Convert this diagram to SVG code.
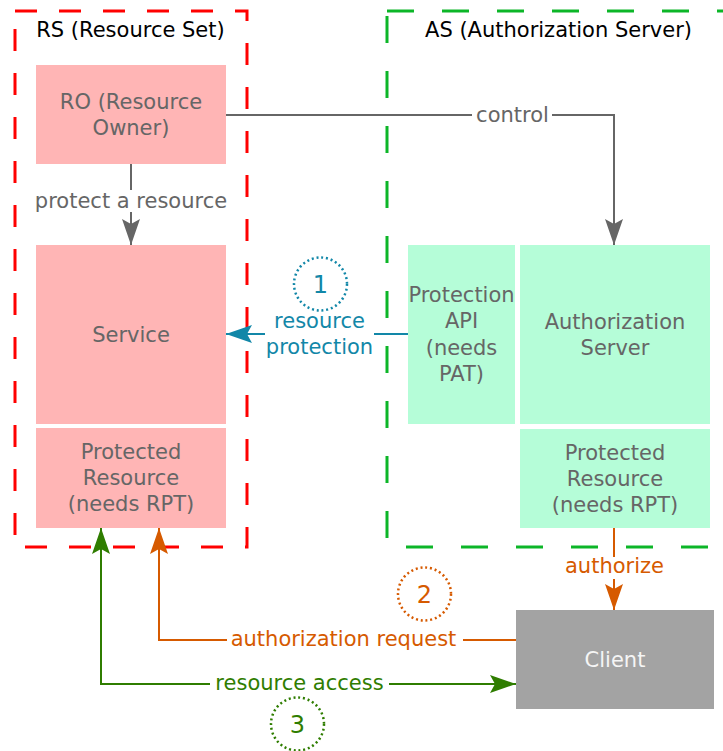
<svg xmlns="http://www.w3.org/2000/svg" width="723" height="751" viewBox="0 0 723 751">
  <style>
    text { font-family: "DejaVu Sans", "Liberation Sans", sans-serif; font-size: 21px; text-anchor: middle; }
    .title { fill: #000000; }
    .lbl { fill: #666666; }
    .pink { fill: #ffb5b5; }
    .mint { fill: #b5fdd8; }
    .line { fill: none; stroke-width: 2; }
    .gray { stroke: #666666; }
    .teal { stroke: #1287a8; }
    .orange { stroke: #d65a00; }
    .green { stroke: #2f7d00; }
    .tteal { fill: #1287a8; }
    .torange { fill: #d65a00; }
    .tgreen { fill: #2f7d00; }
    .bg { fill: #ffffff; }
    .step { fill: none; stroke-width: 2.5; stroke-dasharray: 2 2.8; }
    .num { font-size: 24px; }
  </style>
  <defs>
    <marker id="arrGray" viewBox="0 0 26 18" refX="26" refY="9" markerWidth="26" markerHeight="18" markerUnits="userSpaceOnUse" orient="auto-start-reverse">
      <path d="M0,0 L26,9 L0,18 L5,9 Z" fill="#666666"/>
    </marker>
    <marker id="arrTeal" viewBox="0 0 26 18" refX="26" refY="9" markerWidth="26" markerHeight="18" markerUnits="userSpaceOnUse" orient="auto-start-reverse">
      <path d="M0,0 L26,9 L0,18 L5,9 Z" fill="#1287a8"/>
    </marker>
    <marker id="arrOrange" viewBox="0 0 26 18" refX="26" refY="9" markerWidth="26" markerHeight="18" markerUnits="userSpaceOnUse" orient="auto-start-reverse">
      <path d="M0,0 L26,9 L0,18 L5,9 Z" fill="#d65a00"/>
    </marker>
    <marker id="arrGreen" viewBox="0 0 26 18" refX="26" refY="9" markerWidth="26" markerHeight="18" markerUnits="userSpaceOnUse" orient="auto-start-reverse">
      <path d="M0,0 L26,9 L0,18 L5,9 Z" fill="#2f7d00"/>
    </marker>
  </defs>

  <rect width="723" height="751" fill="#ffffff"/>

  <!-- Containers -->
  <g id="rs-container">
    <rect x="15" y="11" width="232" height="536" fill="none" stroke="#ff0000" stroke-width="3" stroke-dasharray="22 22"/>
    <text class="title" x="130.5" y="37">RS (Resource Set)</text>
  </g>
  <g id="as-container">
    <rect x="387" y="11" width="360" height="536" fill="none" stroke="#0cb628" stroke-width="3" stroke-dasharray="27 28"/>
    <text class="title" x="558.5" y="37">AS (Authorization Server)</text>
  </g>

  <!-- Nodes -->
  <g id="resource-owner">
    <rect class="pink" x="36" y="65" width="190" height="99"/>
    <text class="lbl" x="131" y="108.5">RO (Resource</text>
    <text class="lbl" x="131" y="134.5">Owner)</text>
  </g>
  <g id="service">
    <rect class="pink" x="36" y="245" width="190" height="179"/>
    <text class="lbl" x="131" y="341.5">Service</text>
  </g>
  <g id="rs-protected-resource">
    <rect class="pink" x="36" y="428" width="190" height="100"/>
    <text class="lbl" x="131" y="458.5">Protected</text>
    <text class="lbl" x="131" y="484.5">Resource</text>
    <text class="lbl" x="131" y="510.5">(needs RPT)</text>
  </g>
  <g id="protection-api">
    <rect class="mint" x="408" y="245" width="107" height="179"/>
    <text class="lbl" x="461.5" y="302">Protection</text>
    <text class="lbl" x="461.5" y="328">API</text>
    <text class="lbl" x="461.5" y="354.5">(needs</text>
    <text class="lbl" x="461.5" y="380.5">PAT)</text>
  </g>
  <g id="authorization-server">
    <rect class="mint" x="520" y="245" width="190" height="179"/>
    <text class="lbl" x="615" y="328.5">Authorization</text>
    <text class="lbl" x="615" y="355">Server</text>
  </g>
  <g id="as-protected-resource">
    <rect class="mint" x="520" y="429" width="190" height="99"/>
    <text class="lbl" x="615" y="459.5">Protected</text>
    <text class="lbl" x="615" y="485.5">Resource</text>
    <text class="lbl" x="615" y="511.5">(needs RPT)</text>
  </g>
  <g id="client">
    <rect x="516" y="610" width="198" height="99" fill="#a3a3a3"/>
    <text x="615" y="667" fill="#f5f5f5">Client</text>
  </g>

  <!-- Connectors -->
  <g id="connectors">
    <path class="line gray" d="M131,164 V245" marker-end="url(#arrGray)"/>
    <rect class="bg" x="32" y="190" width="198" height="22"/>
    <text class="lbl" x="131" y="208">protect a resource</text>

    <path class="line gray" d="M226,115 H614 V245" marker-end="url(#arrGray)"/>
    <rect class="bg" x="472" y="104" width="80" height="22"/>
    <text class="lbl" x="512.5" y="122">control</text>

    <path class="line teal" d="M408,334 H226" marker-end="url(#arrTeal)"/>
    <rect class="bg" x="265" y="310" width="109" height="50"/>
    <text class="tteal" x="319.5" y="327.5">resource</text>
    <text class="tteal" x="319.5" y="354">protection</text>

    <path class="line orange" d="M614,528 V610" marker-end="url(#arrOrange)"/>
    <rect class="bg" x="562" y="557" width="105" height="22"/>
    <text class="torange" x="614.5" y="573">authorize</text>

    <path class="line orange" d="M516,640 H159 V528" marker-end="url(#arrOrange)"/>
    <rect class="bg" x="227" y="628" width="236" height="24"/>
    <text class="torange" x="343.5" y="646">authorization request</text>

    <path class="line green" d="M101,528 V684 H516" marker-start="url(#arrGreen)" marker-end="url(#arrGreen)"/>
    <rect class="bg" x="210" y="672" width="179" height="24"/>
    <text class="tgreen" x="299.5" y="690">resource access</text>
  </g>

  <!-- Step numbers -->
  <g id="step-1">
    <circle class="step teal" cx="320.5" cy="284" r="26.5"/>
    <text class="tteal num" x="320.5" y="293">1</text>
  </g>
  <g id="step-2">
    <circle class="step orange" cx="424.5" cy="594" r="26.5"/>
    <text class="torange num" x="424.5" y="603">2</text>
  </g>
  <g id="step-3">
    <circle class="step green" cx="297.5" cy="724" r="26.5"/>
    <text class="tgreen num" x="297.5" y="733">3</text>
  </g>
</svg>
